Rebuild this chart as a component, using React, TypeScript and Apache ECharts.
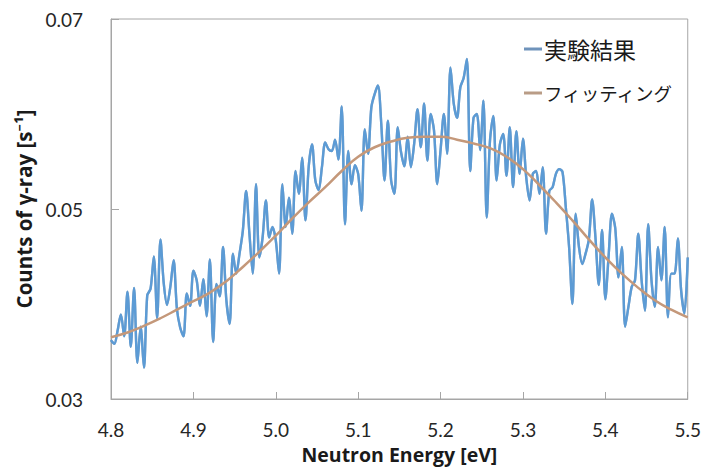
import React, { useEffect, useRef } from "react";
import * as echarts from "echarts";

// Neutron energy grid of the measured data (eV): start and step
const energyStart = 4.8;
const energyStep = 0.004;

const measured: number[] = [
  0.0362, 0.0358, 0.0372, 0.0389, 0.0366, 0.0413, 0.0355, 0.0417, 0.0338, 0.0376,
  0.0333, 0.0409, 0.0416, 0.0450, 0.0385, 0.0468, 0.0422, 0.0399, 0.0418, 0.0446,
  0.0395, 0.0375, 0.0366, 0.0411, 0.0398, 0.0435, 0.0425, 0.0398, 0.0426, 0.0387,
  0.0447, 0.0360, 0.0421, 0.0408, 0.0460, 0.0404, 0.0379, 0.0453, 0.0432, 0.0453,
  0.0477, 0.0519, 0.0474, 0.0432, 0.0526, 0.0449, 0.0470, 0.0509, 0.0470, 0.0481,
  0.0467, 0.0432, 0.0526, 0.0481, 0.0512, 0.0474, 0.0540, 0.0516, 0.0554, 0.0488,
  0.0545, 0.0568, 0.0530, 0.0520, 0.0544, 0.0570, 0.0563, 0.0561, 0.0573, 0.0552,
  0.0608, 0.0484, 0.0561, 0.0526, 0.0546, 0.0537, 0.0498, 0.0584, 0.0558, 0.0607,
  0.0621, 0.0630, 0.0590, 0.0530, 0.0593, 0.0530, 0.0516, 0.0586, 0.0560, 0.0545,
  0.0576, 0.0544, 0.0569, 0.0605, 0.0565, 0.0611, 0.0551, 0.0600, 0.0583, 0.0526,
  0.0562, 0.0600, 0.0558, 0.0649, 0.0611, 0.0596, 0.0628, 0.0638, 0.0658, 0.0540,
  0.0596, 0.0600, 0.0562, 0.0614, 0.0491, 0.0572, 0.0598, 0.0530, 0.0568, 0.0579,
  0.0535, 0.0586, 0.0523, 0.0582, 0.0537, 0.0574, 0.0533, 0.0509, 0.0537, 0.0540,
  0.0516, 0.0544, 0.0474, 0.0519, 0.0523, 0.0537, 0.0542, 0.0539, 0.0502, 0.0460,
  0.0400, 0.0495, 0.0460, 0.0442, 0.0453, 0.0468, 0.0510, 0.0470, 0.0420, 0.0478,
  0.0405, 0.0451, 0.0495, 0.0480, 0.0428, 0.0460, 0.0376, 0.0397, 0.0418, 0.0425,
  0.0474, 0.0425, 0.0393, 0.0484, 0.0425, 0.0397, 0.0460, 0.0425, 0.0481, 0.0386,
  0.0432, 0.0432, 0.0469, 0.0414, 0.0390, 0.0449,
];

// フィッティング (fitted curve)
const fitEnergy: number[] = [
  4.80, 4.82, 4.84, 4.86, 4.88, 4.90, 4.92, 4.94, 4.96, 4.98,
  5.00, 5.02, 5.04, 5.06, 5.08, 5.10, 5.12, 5.14, 5.16, 5.18,
  5.20, 5.22, 5.24, 5.26, 5.28, 5.30, 5.32, 5.34, 5.36, 5.38,
  5.40, 5.42, 5.44, 5.46, 5.48, 5.50,
];
const fitValues: number[] = [
  0.0365, 0.0370, 0.0377, 0.0385, 0.0394, 0.0403, 0.0412, 0.0424, 0.0439, 0.0455,
  0.0472, 0.0490, 0.0507, 0.0523, 0.0540, 0.0555, 0.0565, 0.0571, 0.0575, 0.0576,
  0.0576, 0.0573, 0.0569, 0.0564, 0.0555, 0.0542, 0.0525, 0.0507, 0.0488, 0.0468,
  0.0449, 0.0432, 0.0417, 0.0404, 0.0394, 0.0386,
];

const seriesNames = ["実験結果", "フィッティング"];
const xTitle = "Neutron Energy [eV]";
const yTitle = "Counts of γ-ray [s⁻¹]";

const FONT = 'Lato, "Noto Sans CJK JP", sans-serif';
const TITLE_FONT = '"Open Sans", "Noto Sans", sans-serif';
const CJK_FONT = '"Noto Sans CJK JP", sans-serif';

export default function App() {
  const ref = useRef<HTMLDivElement>(null);

  useEffect(() => {
    if (!ref.current) return;
    const chart = echarts.init(ref.current, undefined, { renderer: "svg" });

    const measuredData = measured.map((v, i) => [
      +(energyStart + i * energyStep).toFixed(3),
      v,
    ]);
    const fitData = fitEnergy.map((e, i) => [e, fitValues[i]]);

    chart.setOption({
      animation: false,
      backgroundColor: "#ffffff",
      textStyle: { fontFamily: FONT },
      grid: {
        left: 111,
        top: 19,
        right: 14.5,
        bottom: 69,
        show: true,
        borderColor: "#a6a6a6",
        borderWidth: 1,
      },
      legend: {
        orient: "vertical",
        left: 519,
        top: 32,
        itemGap: 20,
        itemWidth: 18,
        itemHeight: 3,
        icon: "rect",
        formatter: (name: string) =>
          name === seriesNames[0] ? `{a|${name}}` : `{b|${name}}`,
        textStyle: {
          fontFamily: CJK_FONT,
          fontSize: 20,
          lineHeight: 24,
          color: "#1a1a1a",
          padding: [0, 0, 0, -3],
          rich: {
            a: {
              fontFamily: CJK_FONT,
              fontSize: 23,
              lineHeight: 24,
              color: "#1a1a1a",
            },
            b: {
              fontFamily: CJK_FONT,
              fontSize: 18.5,
              lineHeight: 24,
              color: "#1a1a1a",
            },
          },
        },
        data: [
          { name: seriesNames[0], itemStyle: { color: "#6f93bb" } },
          { name: seriesNames[1], itemStyle: { color: "#b99c86" } },
        ],
      },
      xAxis: {
        type: "value",
        min: 4.8,
        max: 5.5,
        interval: 0.1,
        name: xTitle,
        nameLocation: "middle",
        nameGap: 45,
        nameTextStyle: {
          fontFamily: TITLE_FONT,
          fontSize: 19.5,
          fontWeight: "bold",
          color: "#1a1a1a",
        },
        axisLine: { show: true, lineStyle: { color: "#a6a6a6", width: 1 } },
        axisTick: {
          show: true,
          inside: true,
          length: 7,
          lineStyle: { color: "#a6a6a6" },
        },
        splitLine: { show: false },
        axisLabel: {
          fontFamily: FONT,
          fontSize: 19,
          color: "#262626",
          margin: 21,
          formatter: (v: number) => v.toFixed(1),
        },
      },
      yAxis: {
        type: "value",
        min: 0.03,
        max: 0.07,
        interval: 0.02,
        name: yTitle,
        nameLocation: "middle",
        nameGap: 72,
        nameTextStyle: {
          fontFamily: TITLE_FONT,
          fontSize: 20.5,
          fontWeight: "bold",
          color: "#1a1a1a",
        },
        axisLine: { show: true, lineStyle: { color: "#a6a6a6", width: 1 } },
        axisTick: {
          show: true,
          inside: true,
          length: 8,
          lineStyle: { color: "#a6a6a6" },
        },
        splitLine: { show: false },
        axisLabel: {
          fontFamily: FONT,
          fontSize: 19,
          color: "#262626",
          margin: 28,
          formatter: (v: number) => v.toFixed(2),
        },
      },
      series: [
        {
          name: seriesNames[0],
          type: "line",
          data: measuredData,
          showSymbol: false,
          symbol: "none",
          smooth: 0.3,
          lineStyle: {
            color: "#5b9bd5",
            width: 2.4,
            shadowColor: "rgba(60,60,80,0.45)",
            shadowBlur: 1.5,
          },
          itemStyle: { color: "#5b9bd5" },
          z: 2,
        },
        {
          name: seriesNames[1],
          type: "line",
          data: fitData,
          showSymbol: false,
          symbol: "none",
          smooth: true,
          lineStyle: { color: "#c4987a", width: 2.5 },
          itemStyle: { color: "#c4987a" },
          z: 3,
        },
      ],
    });

    return () => chart.dispose();
  }, []);

  return (
    <div
      ref={ref}
      style={{ position: "fixed", left: 0, top: 0, width: 704, height: 469 }}
    />
  );
}
